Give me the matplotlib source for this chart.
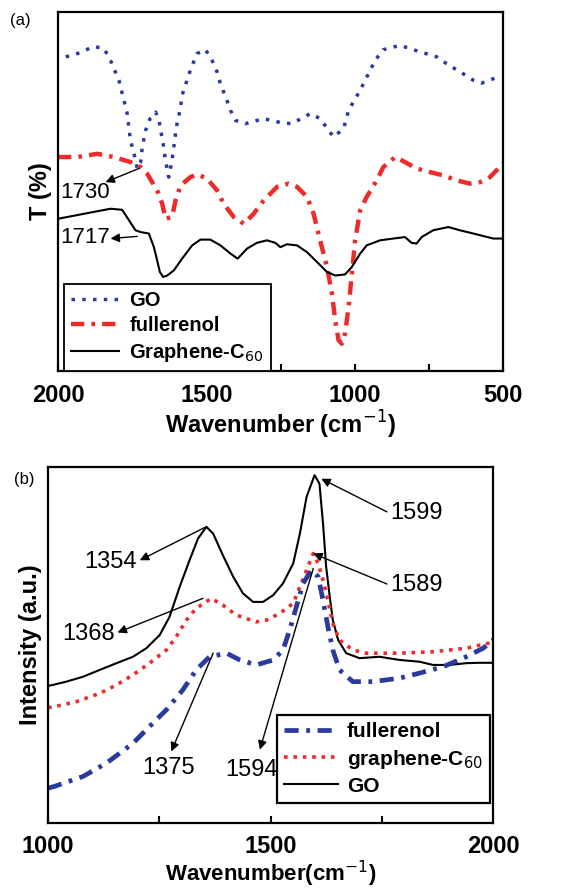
import numpy as np
import matplotlib
matplotlib.use("Agg")
import matplotlib.pyplot as plt

plt.rcParams['font.family'] = ['Liberation Sans', 'DejaVu Sans']

# ---- panel (a): FTIR, transmittance (a.u.) ----
wn_go_a = [1974, 1935, 1879, 1845, 1823, 1795, 1778, 1767, 1756, 1744, 1733, 1722, 1716, 1705,
           1690, 1671, 1660, 1652, 1644, 1638, 1627, 1616, 1610, 1604, 1599, 1587, 1582, 1571,
           1560, 1548, 1532, 1503, 1481, 1464, 1453, 1442, 1431, 1419, 1402, 1369, 1307, 1245,
           1212, 1150, 1117, 1072, 1038, 1021, 982, 948, 932, 904, 848, 780, 724, 691, 635,
           601, 573, 534, 506]
t_go_a = [87.5, 88.4, 90.4, 89.8, 86.5, 81.0, 75.4, 71.7, 64.3, 60.5, 56.4, 58.0, 62.4, 67.0,
          70.3, 72.1, 69.8, 66.1, 62.4, 58.7, 54.0, 58.7, 62.4, 66.1, 68.9, 73.5, 76.8, 79.6,
          82.4, 85.1, 88.4, 89.5, 86.5, 83.3, 80.0, 77.7, 75.4, 72.6, 69.8, 68.9, 70.3, 69.1,
          68.9, 71.7, 70.3, 65.2, 67.5, 72.6, 78.2, 83.8, 86.5, 89.5, 90.7, 88.9, 87.5, 85.6, 82.8,
          81.0, 80.2, 81.4, 82.1]

wn_ful_a = [2000, 1935, 1868, 1812, 1756, 1722, 1700, 1666, 1649, 1638, 1616, 1604, 1587, 1554,
            1531, 1498, 1464, 1442, 1408, 1374, 1341, 1307, 1262, 1223, 1195, 1161, 1139, 1117,
            1094, 1077, 1066, 1055, 1044, 1033, 1021, 1010, 999, 982, 960, 926, 904, 864, 831,
            792, 747, 702, 657, 612, 578, 545, 500]
t_ful_a = [59.6, 59.6, 60.5, 59.6, 58.2, 56.8, 55.0, 50.3, 46.6, 42.4, 42.9, 47.5, 51.7, 54.0,
           54.8, 53.6, 50.3, 46.6, 42.9, 41.0, 43.8, 47.5, 51.3, 52.2, 51.3, 48.5, 43.8, 36.4,
           29.0, 21.5, 14.1, 8.6, 7.6, 10.4, 17.8, 27.1, 36.4, 44.8, 48.5, 53.1, 56.8, 59.6, 58.2,
           56.4, 55.4, 54.5, 53.1, 52.2, 52.6, 54.0, 57.8]

wn_gc_a = [2000, 1912, 1823, 1784, 1761, 1739, 1722, 1694, 1677, 1666, 1657, 1646, 1632, 1610,
           1582, 1548, 1520, 1487, 1453, 1419, 1395, 1363, 1330, 1296, 1268, 1251, 1229, 1195,
           1161, 1128, 1094, 1066, 1033, 1010, 982, 960, 915, 870, 831, 809, 792, 775, 736,
           685, 646, 601, 534, 500]
t_gc_a = [42.4, 43.8, 45.2, 44.9, 42.0, 39.2, 38.7, 38.3, 34.5, 30.8, 27.6, 26.2, 26.6, 28.0,
          31.3, 35.0, 36.6, 36.6, 35.0, 32.7, 31.3, 34.1, 35.7, 36.4, 35.7, 34.5, 35.3, 35.0,
          33.1, 30.4, 27.6, 26.6, 26.9, 29.0, 32.7, 35.0, 36.4, 36.9, 37.3, 35.7, 35.5, 37.3,
          39.2, 40.1, 39.2, 38.3, 36.9, 36.9]

# ---- panel (b): Raman, intensity (a.u.) ----
wn_go_b = [1000, 1011, 1041, 1079, 1116, 1154, 1191, 1221, 1251, 1273, 1296, 1318, 1337, 1356,
           1371, 1393, 1416, 1438, 1461, 1483, 1506, 1528, 1551, 1566, 1581, 1599, 1610, 1618,
           1625, 1633, 1640, 1652, 1670, 1700, 1745, 1790, 1835, 1865, 1903, 1940, 1970, 2000]
i_go_b = [38.5, 38.8, 39.7, 41.1, 43.0, 44.9, 46.7, 49.1, 52.8, 57.9, 66.4, 73.8, 79.9, 83.2,
          81.3, 75.2, 69.2, 64.5, 62.1, 62.1, 64.0, 67.3, 72.9, 81.3, 91.6, 97.7, 95.3, 84.1,
          72.0, 63.6, 57.0, 51.4, 47.7, 46.3, 46.7, 45.8, 45.3, 44.4, 44.4, 44.9, 45.0, 45.0]

wn_gc_b = [1000, 1015, 1064, 1116, 1154, 1191, 1228, 1266, 1288, 1311, 1333, 1367, 1393, 1423,
           1468, 1491, 1521, 1551, 1566, 1581, 1596, 1607, 1618, 1629, 1640, 1655, 1685, 1715,
           1790, 1865, 1940, 2000]
i_gc_b = [32.4, 32.7, 34.1, 36.4, 38.8, 41.6, 44.9, 48.6, 52.3, 57.0, 60.3, 63.1, 61.2, 58.4,
          56.5, 57.0, 58.9, 61.7, 66.4, 71.0, 75.7, 72.9, 68.2, 62.6, 56.1, 51.4, 48.6, 47.7,
          47.7, 48.1, 49.1, 50.8]

wn_ful_b = [1000, 1015, 1079, 1131, 1191, 1228, 1266, 1303, 1333, 1363, 1401, 1431, 1468, 1506,
            1528, 1543, 1558, 1573, 1592, 1607, 1618, 1629, 1640, 1655, 1685, 1730, 1790, 1835,
            1888, 1940, 1978, 2000]
i_ful_b = [9.8, 10.3, 13.1, 16.8, 22.4, 27.1, 31.8, 37.4, 43.0, 46.7, 47.7, 45.8, 44.4, 45.8,
           48.6, 54.2, 60.7, 67.3, 71.0, 69.2, 62.6, 55.1, 48.6, 43.0, 39.7, 39.7, 40.7, 42.1,
           43.9, 46.7, 49.1, 51.4]

blue = '#2b3a9c'
red = '#ee2b2b'

fig = plt.figure(figsize=(5.65, 8.88), dpi=100)
ax1 = fig.add_axes([0.1027, 0.5822, 0.788, 0.4043])
ax2 = fig.add_axes([0.085, 0.0732, 0.7876, 0.4009])


def style_axes(ax, xlim, xlabel, ylabel, xlabelsize=17, xlabelpad=2):
    ax.set_xlim(*xlim)
    ax.set_ylim(0, 100)
    ax.set_yticks([])
    for sp in ax.spines.values():
        sp.set_linewidth(1.6)
    ax.tick_params(axis='x', which='both', direction='in', top=False, width=1.5)
    ax.tick_params(axis='x', which='major', length=5, pad=9, labelsize=17)
    ax.tick_params(axis='x', which='minor', length=5)
    for lab in ax.get_xticklabels():
        lab.set_fontweight('bold')
    ax.set_xlabel(xlabel, fontsize=xlabelsize, fontweight='bold', labelpad=xlabelpad)
    ax.set_ylabel(ylabel, fontsize=17, fontweight='bold', labelpad=4)


arrow = dict(arrowstyle='-|>', color='black', lw=1.0, mutation_scale=13,
             shrinkA=0, shrinkB=0)

# panel (a)
ax1.plot(wn_go_a, t_go_a, color=blue, lw=2.5, dashes=(1, 2.1), label='GO')
ax1.plot(wn_ful_a, t_ful_a, color=red, lw=3.2, dashes=(3, 1.6, 0.8, 1.6), label='fullerenol')
ax1.plot(wn_gc_a, t_gc_a, color='black', lw=1.5, label='Graphene-C$_{60}$')
ax1.set_xticks([2000, 1500, 1000, 500])
ax1.set_xticks([1750, 1250, 750], minor=True)
style_axes(ax1, (2000, 500), 'Wavenumber (cm$^{-1}$)', 'T (%)')
ax1.annotate('', xy=(1840, 52.6), xytext=(1728, 56.4), arrowprops=arrow)
ax1.text(1993, 49.6, '1730', fontsize=16, ha='left', va='center')
ax1.annotate('', xy=(1823, 36.9), xytext=(1733, 37.5), arrowprops=arrow)
ax1.text(1993, 37.1, '1717', fontsize=16, ha='left', va='center')
leg1 = ax1.legend(loc='lower left', bbox_to_anchor=(0.0135, 0.0), borderaxespad=0,
                  fancybox=False, edgecolor='black', framealpha=1, handlelength=2.4,
                  handletextpad=0.5, labelspacing=0.3, borderpad=0.35,
                  prop={'size': 14.5, 'weight': 'bold'})
leg1.get_frame().set_linewidth(1.3)
fig.text(0.018, 0.972, '(a)', fontsize=12)

# panel (b)
ax2.plot(wn_go_b, i_go_b, color='black', lw=1.5, label='GO')
ax2.plot(wn_gc_b, i_gc_b, color=red, lw=2.6, dashes=(1, 1.6), label='graphene-C$_{60}$')
ax2.plot(wn_ful_b, i_ful_b, color=blue, lw=3.4, dashes=(3, 1.6, 0.8, 1.6), label='fullerenol')
ax2.set_xticks([1000, 1500, 2000])
ax2.set_xticks([1250, 1750], minor=True)
style_axes(ax2, (1000, 2000), 'Wavenumber(cm$^{-1}$)', 'Intensity (a.u.)',
           xlabelsize=16, xlabelpad=0)
ax2.annotate('1599', xy=(1614, 96.7), xytext=(1768, 87.0), fontsize=17, ha='left', va='center',
             arrowprops=dict(arrow, relpos=(0, 0.5)))
ax2.annotate('1354', xy=(1352, 83.0), xytext=(1200, 73.4), fontsize=17, ha='right', va='center',
             arrowprops=dict(arrow, arrowstyle='<|-', relpos=(1, 0.5)))
ax2.annotate('1589', xy=(1596, 75.7), xytext=(1768, 66.8), fontsize=17, ha='left', va='center',
             arrowprops=dict(arrow, relpos=(0, 0.5)))
ax2.annotate('1368', xy=(1348, 63.1), xytext=(1150, 53.2), fontsize=17, ha='right', va='center',
             arrowprops=dict(arrow, arrowstyle='<|-', relpos=(1, 0.5)))
ax2.annotate('', xy=(1277, 20.1), xytext=(1371, 47.7), arrowprops=arrow)
ax2.text(1270, 15.4, '1375', fontsize=17, ha='center', va='center')
ax2.annotate('', xy=(1476, 20.6), xytext=(1596, 71.5), arrowprops=arrow)
ax2.text(1458, 15.0, '1594', fontsize=17, ha='center', va='center')
h, l = ax2.get_legend_handles_labels()
leg2 = ax2.legend([h[2], h[1], h[0]], [l[2], l[1], l[0]], loc='lower right',
                  bbox_to_anchor=(0.993, 0.056), borderaxespad=0, fancybox=False,
                  edgecolor='black', framealpha=1, handlelength=2.6, handletextpad=0.4,
                  labelspacing=0.3, borderpad=0.35, prop={'size': 15, 'weight': 'bold'})
leg2.get_frame().set_linewidth(1.6)
fig.text(0.025, 0.455, '(b)', fontsize=12)

fig.savefig('out.png', dpi=100)
